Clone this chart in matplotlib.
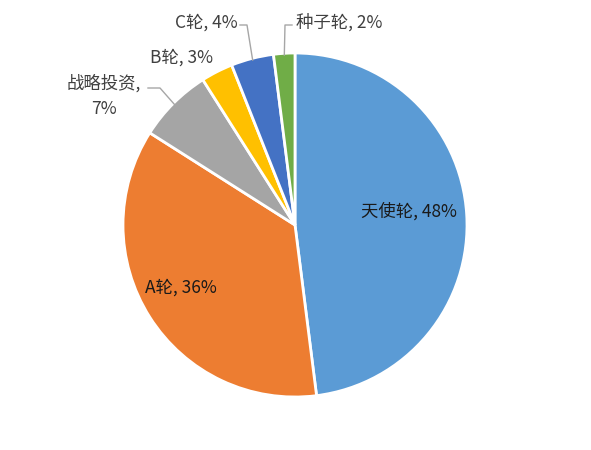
import numpy as np
import matplotlib
matplotlib.use("Agg")
import matplotlib.pyplot as plt

plt.rcParams['font.family'] = ['Noto Sans CJK SC', 'DejaVu Sans']

# funding rounds share
labels = ['天使轮', 'A轮', '战略投资', 'B轮', 'C轮', '种子轮']
shares = [48, 36, 7, 3, 4, 2]
colors = ['#5B9BD5', '#ED7D31', '#A5A5A5', '#FFC000', '#4472C4', '#70AD47']

fig = plt.figure(figsize=(5.91, 4.5), dpi=100)
# pie centre ~ (295, 225) px, radius ~172 px
ax = fig.add_axes([123 / 591, 53 / 450, 344 / 591, 344 / 450])

wedges, _ = ax.pie(shares, colors=colors, startangle=90, counterclock=False,
                   radius=1.0, wedgeprops=dict(edgecolor='white', linewidth=2))
ax.set_xlim(-1, 1)
ax.set_ylim(-1, 1)
ax.set_aspect('equal')
ax.axis('off')


def px(x, y):
    # pixel position in the image -> data units of the pie
    return (x - 295) / 172, (225 - y) / 172


def edge_point(w, r=1.0):
    ang = np.deg2rad((w.theta1 + w.theta2) / 2)
    return r * np.cos(ang), r * np.sin(ang)


fs = 12.5
inner = dict(fontsize=fs, color='#1a1a1a')
outer = dict(fontsize=fs, color='#404040')
texts = [f'{lab}, {s}%' for lab, s in zip(labels, shares)]

# inside labels
ax.text(*px(409, 211), texts[0], ha='center', va='center', **inner)
ax.text(*px(181, 288), texts[1], ha='center', va='center', **inner)

# outside labels
ax.text(*px(104, 96), '战略投资,\n7%', ha='center', va='center',
        linespacing=1.5, **outer)
ax.text(*px(182, 58), texts[3], ha='center', va='center', **outer)
ax.text(*px(238, 23), texts[4], ha='right', va='center', **outer)
ax.text(*px(296, 22), texts[5], ha='left', va='center', **outer)

# leader lines
leaders = [
    (2, px(148, 88), px(160, 88)),
    (4, px(240, 25), px(247, 25)),
    (5, px(292, 25), px(285, 25)),
]
for idx, p0, p1 in leaders:
    ex, ey = edge_point(wedges[idx], 0.99)
    ax.plot([p0[0], p1[0], ex], [p0[1], p1[1], ey], color='#A6A6A6',
            linewidth=1, clip_on=False)

fig.savefig('out.png', dpi=100)
